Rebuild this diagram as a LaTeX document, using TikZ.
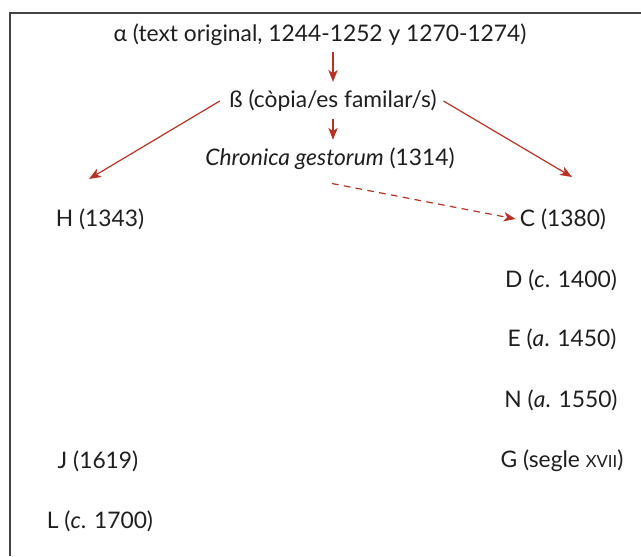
\documentclass[tikz,border=0pt]{standalone}
\usepackage{fontspec}
\setmainfont{Lato}
\usetikzlibrary{arrows.meta}
\definecolor{arrred}{HTML}{B83224}
\definecolor{txt}{HTML}{1E1E1E}
\definecolor{frame}{HTML}{444444}
\tikzset{
  lbl/.style={text=txt,font=\fontsize{17.1}{21}\selectfont,inner sep=0pt,anchor=center},
  arr/.style={draw=arrred,line width=0.9pt,-{Stealth[length=9pt,width=7pt,inset=2.5pt]}},
  darr/.style={arr,dash pattern=on 5pt off 4pt}
}
\begin{document}
\begin{tikzpicture}[x=0.75pt,y=-0.75pt]
\useasboundingbox (0,0) rectangle (641,556);
\draw[frame,line width=1.2pt] (10,556) -- (10,13) -- (641,13);
\node[lbl] (alpha) at (320,35) {α (text original, 1244-1252 y 1270-1274)};
\node[lbl] (beta) at (333,101) {ß (còpia/es familar/s)};
\node[lbl] (chron) at (330,159) {\textit{Chronica gestorum} (1314)};
\node[lbl] (H) at (100,219) {H (1343)};
\node[lbl] (C) at (563,219) {C (1380)};
\node[lbl] (D) at (561,280) {D (\textit{c}. 1400)};
\node[lbl] (E) at (562,339) {E (\textit{a}. 1450)};
\node[lbl] (N) at (561,400) {N (\textit{a}. 1550)};
\node[lbl] (G) at (562,461) {G (segle {\fontsize{12.5}{15}\selectfont XVII})};
\node[lbl] (J) at (98,461) {J (1619)};
\node[lbl] (L) at (100,521) {L (\textit{c}. 1700)};
\coordinate (hend) at (89,179);
\coordinate (cend) at (572,177);
\draw[arr,shorten <=4pt,shorten >=6pt] (alpha.south -| beta.north) -- (beta.north);
\draw[arr,shorten <=5pt,shorten >=6pt] (beta.south) -- (beta.south |- chron.north);
\draw[arr] ([xshift=-7]beta.west) -- (hend);
\draw[arr] ([xshift=5]beta.east) -- (cend);
\draw[darr] ([yshift=-10]chron.south -| 332,0) -- ([xshift=-3]C.west);
\end{tikzpicture}
\end{document}
